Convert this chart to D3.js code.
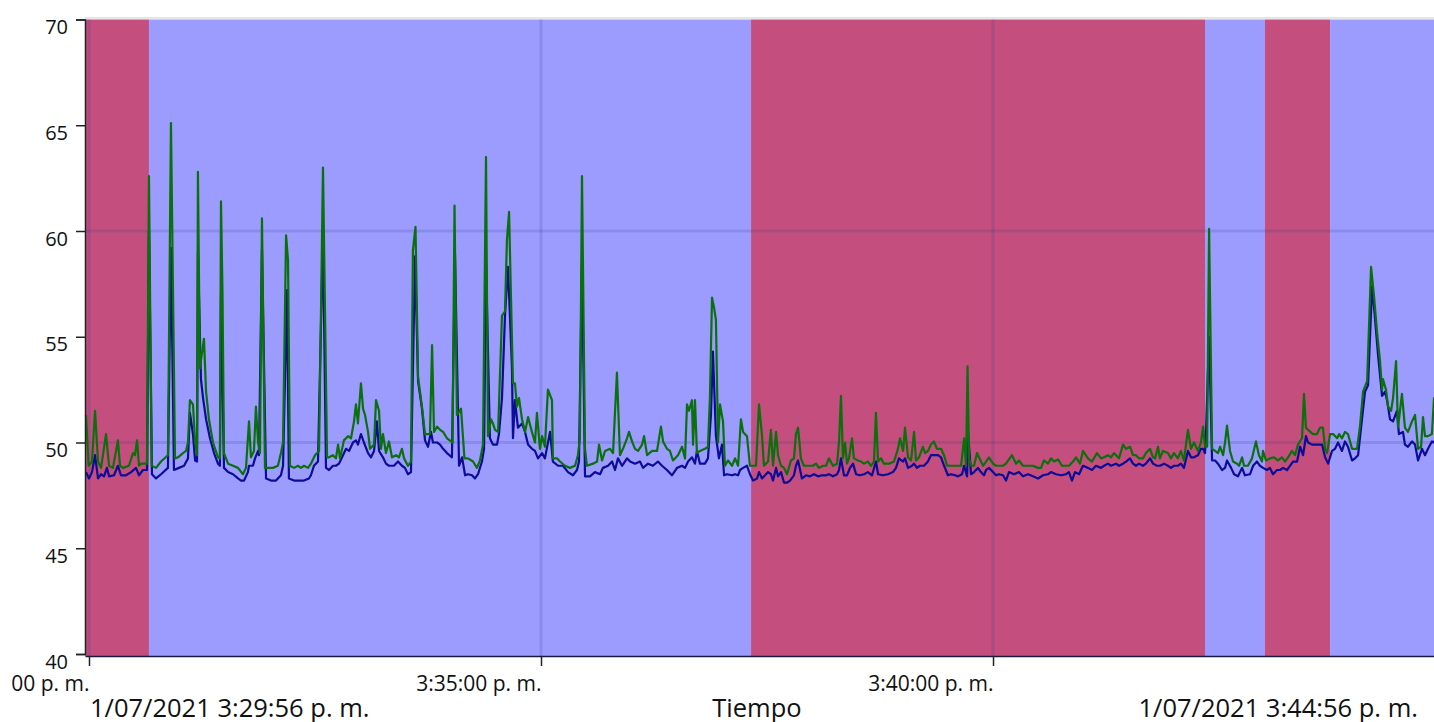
<!DOCTYPE html>
<html><head><meta charset="utf-8">
<script src="https://cdn.jsdelivr.net/npm/d3@7"></script>
<style>body{margin:0;background:#fff;overflow:hidden}svg{display:block;font-family:"Open Sans",sans-serif}</style>
</head><body><svg id="c" width="1434" height="722"></svg>
<script>
// seconds after 1/07/2021 3:30:00 p. m., value
const greenSeries = [
[-2,51.3],[-0.2,48.9],[2,49.1],[4,51.5],[6,49.1],[8,48.8],[11.3,50.4],[13.3,48.9],[15.9,48.8],[19.2,50.1],
[20.6,48.9],[22.6,48.8],[26.5,48.9],[29.2,49.5],[30.5,49.4],[31.9,50.1],[33.2,48.9],[34.5,49.0],[38.5,49.0],[39.8,62.6],
[41.6,48.9],[44.5,48.8],[47.8,49.1],[52.4,49.4],[54.4,65.1],[57.1,49.25],[59.1,49.3],[62.4,49.5],[64.4,49.6],[65.7,50.0],
[67,52.0],[69,51.8],[70.4,50.05],[71.7,49.4],[72.3,62.8],[73.6,53.5],[76.3,54.9],[77.7,52.4],[79.6,51.1],[82.3,50.0],
[85.6,49.3],[86.9,49.25],[87.6,61.4],[88.6,57.1],[89.6,49.5],[92.3,49.0],[95.6,48.9],[98.9,48.8],[102.2,48.5],[104.2,48.8],
[106.2,51.0],[107.5,49.3],[109.5,49.6],[110.8,51.7],[112.2,50.0],[113.5,49.5],[114.8,60.6],[116.8,48.8],[118.8,48.8],[122.1,48.8],
[125.4,48.9],[127.4,49.5],[128.8,50.0],[130.8,59.8],[132.1,58.6],[133.4,48.9],[136.1,48.8],[138.7,48.9],[140.7,48.8],[142.7,48.9],
[145.4,48.8],[147.3,49.0],[150,49.4],[152.7,49.6],[155.3,63.0],[158,49.3],[159.3,49.3],[161.9,49.4],[163.9,49.25],[165.3,49.9],
[166.6,49.25],[169.2,50.1],[171.9,50.3],[173.9,50.2],[175.9,51.0],[177.2,51.8],[178.5,50.9],[180.5,52.8],[181.9,51.6],[183.2,51.3],
[185.2,50.5],[186.5,49.7],[189.2,49.9],[190.5,52.0],[192.5,51.5],[193.8,49.7],[195.1,50.4],[197.1,49.5],[199.1,50.05],[201.1,49.3],
[203.8,49.4],[205.7,49.3],[207.7,49.7],[209.1,49.25],[211.7,48.9],[213.7,49.1],[215,59.1],[216.7,60.2],[218.4,53.1],[221,51.7],
[223,50.4],[225,50.4],[226.3,50.4],[227.7,54.6],[229,50.5],[231,50.75],[233,50.6],[235,50.5],[237.6,50.2],[240.3,50.05],
[241.3,50.0],[242.6,61.2],[244.2,51.3],[246.9,51.6],[249.2,49.25],[251.5,49.25],[254.9,49.1],[257.5,48.8],[259.5,49.15],[261.5,49.9],
[263.5,63.5],[264.8,50.3],[266.8,51.1],[268.1,50.9],[269.5,50.6],[271.5,50.5],[274.1,56.0],[276.1,56.2],[277.4,59.6],[278.8,60.9],
[280.1,56.8],[281.4,52.8],[282.7,52.8],[284.1,51.7],[285.4,52.1],[287.4,51.1],[289.4,50.5],[291.4,51.2],[294,50.5],[296,50.0],
[297.3,51.4],[299.3,49.7],[300.7,50.3],[302.6,49.8],[304.6,52.5],[307.3,52.0],[307.9,49.25],[310.6,49.25],[312.6,49.1],[315.9,48.9],
[319.2,48.8],[322.6,48.9],[324.5,49.4],[325.8,50.2],[327.2,62.6],[329.2,49.7],[330.5,48.9],[334.5,49.0],[337.2,49.1],[338.5,49.9],
[340.5,49.15],[342.5,49.6],[345.8,49.7],[347.8,49.5],[350.4,53.3],[352.4,49.4],[354.4,49.7],[357.1,50.2],[358.4,50.5],[360.4,50.05],
[362.4,49.7],[364.4,49.6],[367.1,49.9],[368.4,50.3],[370.4,49.4],[373.7,49.6],[377,49.6],[379.6,50.75],[381,50.05],[383.6,49.7],
[385.6,49.6],[387.6,49.15],[390.9,49.4],[393.6,49.8],[395.6,49.25],[396.9,51.8],[398.2,51.5],[400.2,52.0],[400.9,49.9],[402.2,52.0],
[403.5,49.5],[405.5,49.6],[408.8,49.7],[410.8,49.8],[412.1,52.1],[413.5,56.85],[414.8,56.4],[416.1,55.8],[417.5,50.0],[418.8,51.8],
[420.8,51.0],[422.1,48.9],[424.1,49.15],[426.8,48.9],[428.8,49.25],[430.8,48.9],[432.7,51.1],[434.1,50.5],[436.7,50.3],[438.7,48.9],
[440.7,48.9],[442.7,48.9],[444.7,51.8],[446.7,50.3],[448,48.9],[450.7,49.1],[452.6,50.6],[454,48.9],[456,50.5],[457.3,49.4],
[459.3,48.9],[461.3,48.8],[463.3,48.5],[465.9,49.15],[467.9,49.25],[469.2,50.4],[470.6,50.7],[472.5,49.25],[474.5,48.9],[477.9,48.9],
[480.5,48.9],[482.5,49.0],[484.5,48.8],[487.2,48.9],[489.2,48.9],[491.1,49.25],[493.8,48.9],[496.5,49.0],[497.8,50.05],[499.1,52.2],
[500.4,49.25],[501.8,50.0],[503.1,49.0],[504.4,49.25],[506.4,50.2],[507.7,49.25],[510.4,49.15],[512.4,49.1],[514.4,49.0],[517,49.1],
[519,48.9],[521,49.1],[522.3,51.4],[523.7,49.1],[525.7,49.25],[527.6,49.0],[531,49.0],[534.3,49.1],[536.9,49.7],[538.3,50.2],
[540.3,49.6],[541.6,50.7],[543.6,49.3],[545.6,49.15],[547.6,50.5],[548.9,49.15],[550.9,49.3],[553.5,49.8],[554.9,49.5],[556.8,49.6],
[558.8,49.9],[560.8,50.05],[562.8,49.7],[565.5,49.7],[567.5,49.4],[569.5,48.9],[572.1,48.9],[574.1,48.9],[576.8,48.9],[578.8,48.9],
[580.8,50.2],[582.1,48.9],[583.1,53.6],[584.1,49.25],[585.4,48.9],[587.4,48.9],[589.4,49.5],[590.7,49.3],[593.4,48.9],[595.4,49.1],
[597.3,49.3],[600,49.0],[602,48.9],[604,48.9],[606.6,48.9],[608.6,49.0],[612.6,49.4],[615.3,49.0],[617.2,49.15],[619.9,48.9],
[623.2,48.9],[626.5,48.9],[629.9,48.8],[631.9,48.8],[633.8,49.15],[636.5,49.0],[638.5,49.25],[640.5,49.1],[643.1,49.2],[645.8,48.9],
[648.4,48.9],[650.4,48.9],[653.1,49.1],[655.1,49.3],[657.7,49.0],[659.7,49.6],[663,49.25],[665.7,49.1],[669,49.5],[671.7,49.25],
[673.7,49.3],[676.3,49.4],[678.3,49.3],[680.3,49.5],[683.6,49.25],[686.3,49.9],[688.3,49.7],[690.9,49.8],[692.9,49.4],[694.9,49.4],
[696.9,49.25],[699.5,49.25],[701.5,49.5],[704.2,49.7],[706.2,49.3],[707.5,49.25],[709.5,49.8],[710.8,49.25],[712.8,49.6],[716.1,49.5],
[718.1,49.25],[720.1,49.5],[722.7,49.25],[724.7,49.6],[726.7,49.15],[729.4,50.6],[731.4,49.7],[733.4,50.0],[736,49.6],[738,50.0],
[739.4,50.75],[740.7,49.8],[742.1,49.8],[743.4,60.1],[745.4,49.7],[747.4,49.6],[749.3,49.5],[750.7,49.8],[752.7,49.4],[754,50.0],
[755.3,50.8],[757.3,49.6],[759.3,49.1],[762,49.0],[763.3,48.9],[765.3,49.3],[766.6,48.9],[769.2,48.9],[771.9,49.25],[774.5,50.05],
[776.5,49.4],[778.5,49.1],[779.2,49.6],[781.2,49.15],[783.8,49.25],[786.5,49.3],[789.1,49.15],[791.8,49.3],[793.8,49.1],[795.8,49.3],
[798.4,49.6],[800.4,49.4],[802.4,49.9],[805.1,50.2],[806.4,52.3],[807.7,50.7],[809.1,50.6],[812.4,50.4],[815,50.4],[817,50.7],
[819,50.7],[820.4,49.7],[821.7,49.5],[823.7,50.4],[825.7,50.4],[828.4,50.2],[829.7,50.4],[831.6,50.2],[833.6,50.5],[835.6,50.4],
[838.3,49.7],[841.6,49.7],[843.6,50.8],[845.6,52.4],[848.3,52.9],[850.9,58.3],[852.9,56.9],[854.9,55.2],[856.8,53.9],[858.2,52.5],
[858.8,53.0],[860.8,52.5],[862.2,51.7],[864.2,51.5],[865.5,52.1],[867.5,53.85],[868.8,50.7],[871.4,52.3],[873.4,50.7],[875.4,50.5],
[878.1,51.0],[880.1,51.3],[882.1,49.7],[884.1,49.8],[885.4,51.2],[886.7,50.3],[888.7,50.3],[891.3,50.4],[892.7,52.1],[894,51.4]
];
const blueSeries = [
[-2,48.6],[0,48.3],[2,48.6],[4,49.4],[6,48.3],[8,48.5],[10,48.4],[11.9,48.8],[13.3,48.4],[16.6,48.45],
[19.2,48.9],[21.2,48.45],[24.6,48.45],[27.9,48.6],[31.2,48.8],[33.2,48.45],[35.8,48.7],[38.5,48.7],[39.8,60.0],[41.8,48.5],
[44.5,48.3],[47.8,48.5],[52.4,48.8],[54.4,59.2],[56.4,48.7],[59.7,48.8],[63.1,48.9],[65.7,49.25],[67,51.4],[69,50.4],
[70.4,49.15],[71.7,49.1],[72.3,59.0],[74.3,53.0],[75.7,52.1],[77.7,51.1],[80.3,50.2],[83,49.5],[85.6,49.0],[86.9,48.9],
[87.6,57.0],[89.6,48.8],[92.3,48.6],[95.6,48.5],[98.9,48.3],[100.9,48.2],[102.9,48.2],[105.5,48.6],[106.2,48.9],[108.8,48.9],
[110.2,49.25],[112.2,49.6],[112.8,49.4],[114.8,59.1],[117.5,48.3],[120.8,48.2],[124.1,48.2],[127.4,48.45],[128.8,48.9],[131.4,57.2],
[132.7,48.3],[136.1,48.2],[139.4,48.2],[142.7,48.2],[146,48.3],[147.3,48.45],[149.3,48.9],[152,49.1],[155.3,59.9],[157.3,48.8],
[159.3,48.7],[161.9,48.9],[163.9,48.9],[165.9,49.0],[168.6,49.4],[170.6,49.7],[172.6,49.6],[175.2,50.0],[177.2,50.1],[178.5,49.9],
[180.5,50.4],[182.5,50.0],[185.2,49.5],[187.2,49.3],[189.2,49.6],[191.1,51.0],[192.5,49.6],[195.1,49.3],[197.1,49.0],[199.1,48.9],
[202.4,48.9],[205.1,49.1],[207.7,48.9],[209.7,48.8],[211.7,48.5],[213.7,48.6],[216.4,58.8],[218.4,52.9],[221,51.6],[223,50.1],
[225,49.8],[227,50.5],[228.3,50.0],[231,50.0],[233,49.9],[235,49.7],[237.6,49.5],[240.9,49.3],[242.9,58.9],[245.6,48.9],
[247.6,49.3],[249.6,48.45],[251.5,48.5],[254.2,48.45],[256.2,48.3],[258.2,48.5],[260.8,49.1],[262.2,49.7],[263.5,58.5],[266.1,50.2],
[268.1,49.9],[270.8,49.9],[272.1,50.4],[274.1,52.1],[276.1,56.0],[278.1,58.3],[280.7,53.6],[281.4,50.2],[282.7,52.0],[284.7,50.7],
[287.4,50.9],[289.4,50.5],[291.4,49.9],[294,49.7],[296,49.6],[298,49.25],[300.7,49.5],[302.6,49.25],[306,50.5],[307.9,49.1],
[311.3,48.9],[314.6,48.9],[317.9,48.6],[321.2,48.45],[323.9,48.7],[325.2,49.1],[327.2,58.5],[329.2,48.4],[332.5,48.4],[335.8,48.6],
[339.2,48.5],[341.1,48.8],[344.5,48.9],[347.2,49.1],[349.1,48.7],[351.1,49.25],[353.8,48.9],[357.1,49.25],[359.1,49.1],[362.4,49.0],
[365.7,49.1],[367.7,48.8],[371,49.0],[374.3,48.9],[377.6,49.1],[380.3,48.9],[383.6,48.7],[386.9,48.45],[390.3,48.8],[393.6,48.9],
[395.6,48.8],[397.6,49.1],[400.2,49.3],[402.2,49.0],[403.5,49.6],[405.5,49.0],[408.8,49.0],[410.8,49.25],[412.8,51.3],[414.1,54.3],
[416.1,50.3],[418.1,49.25],[420.1,49.9],[421.5,48.45],[423.4,48.5],[426.8,48.45],[428.8,48.5],[430.8,48.45],[432.1,48.7],[434.1,48.8],
[436.7,48.9],[438.7,48.5],[440.7,48.2],[443.4,48.3],[444.7,48.6],[446.7,48.3],[448.7,48.45],[450.7,48.6],[452.6,48.5],[454,48.2],
[456,48.8],[457.3,48.4],[459.3,48.6],[461.3,48.1],[463.3,48.1],[465.3,48.2],[467.9,48.45],[469.2,48.9],[470.6,49.15],[473.2,48.3],
[475.9,48.45],[478.5,48.4],[481.2,48.5],[483.8,48.4],[486.5,48.45],[489.2,48.45],[491.1,48.5],[493.8,48.4],[496.5,48.5],[497.8,48.7],
[499.1,49.25],[501.1,48.45],[503.1,48.45],[505.1,48.8],[507.1,49.0],[509.1,48.5],[511.7,48.45],[514.4,48.5],[517,48.6],[519.7,48.45],
[522.3,49.1],[523.7,48.5],[527,48.45],[530.3,48.5],[533.6,48.6],[535.6,48.8],[537.6,49.25],[540.3,49.1],[541.6,49.25],[543.6,48.8],
[546.2,48.9],[547.6,49.0],[549.5,48.8],[551.5,48.9],[554.2,48.9],[556.8,49.1],[558.8,49.4],[560.8,49.4],[563.5,49.4],[565.5,49.3],
[567.5,48.9],[570.1,48.45],[572.1,48.5],[574.8,48.45],[576.8,48.4],[579.4,48.5],[580.8,48.9],[582.8,48.4],[583.4,50.5],[585.4,48.5],
[587.4,48.6],[590,48.8],[592,48.6],[594,48.45],[595.4,48.7],[597.3,48.8],[600,48.6],[602,48.45],[604,48.5],[606.6,48.45],
[608.6,48.2],[610.6,48.6],[613.9,48.5],[617.2,48.6],[619.9,48.4],[623.2,48.5],[626.5,48.4],[629.9,48.3],[633.2,48.45],[636.5,48.5],
[638.5,48.6],[641.8,48.5],[645.1,48.45],[648.4,48.5],[650.4,48.6],[652.4,48.2],[654.4,48.6],[657.1,48.5],[659.7,48.9],[663,48.8],
[665.7,48.7],[668.3,48.9],[671.7,48.8],[673.7,48.9],[676.3,49.0],[678.3,48.9],[681.6,49.0],[683.6,48.9],[686.3,49.0],[688.3,49.1],
[690.9,49.25],[692.9,49.0],[694.9,48.9],[696.9,49.0],[699.5,48.9],[701.5,49.0],[704.2,49.25],[706.2,49.0],[708.8,48.9],[710.8,48.9],
[713.5,49.0],[716.1,48.9],[718.1,48.8],[720.1,48.9],[722.7,48.9],[724.7,49.0],[726.7,48.8],[729.4,49.6],[731.4,49.3],[733.4,49.3],
[736,49.4],[738,49.7],[739.4,49.7],[740.7,49.5],[741.3,50.3],[743.4,55.0],[745.4,49.15],[747.4,49.15],[749.3,49.0],[752,48.7],
[754,48.8],[755.3,49.15],[758,48.8],[760,48.5],[762.6,48.4],[765.3,48.8],[767.2,48.45],[770.6,48.5],[772.6,48.9],[775.2,49.1],
[777.2,48.9],[779.2,48.8],[781.8,48.7],[783.8,48.8],[785.8,48.5],[788.5,48.7],[790.5,48.7],[792.5,48.8],[795.1,48.7],[797.1,48.9],
[799.1,49.1],[801.8,49.1],[803.8,49.8],[805.8,49.4],[807.7,50.3],[809.1,50.0],[811.7,49.9],[813.7,49.9],[815.7,49.9],[818.4,49.9],
[820.4,49.3],[822.4,49.0],[825,49.6],[827,49.7],[829,50.0],[831.6,49.6],[833.6,50.05],[835.6,49.8],[838.3,49.15],[840.3,49.25],
[842.3,49.4],[844.9,51.1],[846.9,52.4],[848.9,52.7],[851.6,57.4],[853.6,55.8],[855.6,54.1],[858.2,52.2],[860.2,52.4],[861.5,52.0],
[863.5,51.1],[865.5,51.0],[868.1,51.5],[869.4,50.4],[872.1,50.5],[873.4,49.9],[875.4,49.8],[878.1,50.05],[880.1,49.9],[882.1,49.15],
[884.7,49.7],[886.7,49.4],[888.7,49.7],[891.3,50.05],[892.7,50.0],[894,50.2]
];
const bandStart = [-2.65, 39.8, 439.4, 740.7, 780.5, 823.7];
const bandEnd   = [39.8, 439.4, 740.7, 780.5, 823.7, 896];
const bandState = ["red", "blue", "red", "blue", "red", "blue"];
const yTicks = [40, 45, 50, 55, 60, 65, 70];
const yGridValues = [50, 60];
const startLabel = "1/07/2021 3:29:56 p. m.";
const endLabel = "1/07/2021 3:44:56 p. m.";
const axisTitle = "Tiempo";

const base = new Date(2021, 6, 1, 15, 30, 0);
const toDate = s => new Date(base.getTime() + s * 1000);
const bandColor = {red: "#c44f7e", blue: "#9c9cff"};

const svg = d3.select("#c");
const pLeft = 85, pTop = 19.5, pBottom = 654, axisY = 656;
const x = d3.scaleTime().domain([toDate(-2.65), toDate(896)]).range([pLeft, 1439]);
const y = d3.scaleLinear().domain([40, 70]).range([pBottom, pTop]);

svg.append("defs").append("clipPath").attr("id", "lblclip")
  .append("rect").attr("x", 10).attr("y", 0).attr("width", 1424).attr("height", 722);

// bands
svg.append("g").selectAll("rect").data(bandState).join("rect")
  .attr("x", (d, i) => x(toDate(bandStart[i])))
  .attr("width", (d, i) => x(toDate(bandEnd[i])) - x(toDate(bandStart[i])))
  .attr("y", pTop).attr("height", axisY - pTop)
  .attr("fill", d => bandColor[d]);

// top border
svg.append("line").attr("x1", pLeft).attr("x2", 1434).attr("y1", 18).attr("y2", 18)
  .attr("stroke", "#dcdcdc").attr("stroke-width", 1.5);

// grid
const xTickVals = x.ticks(d3.timeMinute.every(5));
const gridStroke = "rgba(40,60,140,0.17)";
svg.append("g").selectAll("line").data(xTickVals).join("line")
  .attr("x1", d => x(d)).attr("x2", d => x(d)).attr("y1", pTop).attr("y2", axisY)
  .attr("stroke", gridStroke).attr("stroke-width", 3);
svg.append("g").selectAll("line").data(yGridValues).join("line")
  .attr("x1", pLeft).attr("x2", 1434).attr("y1", d => y(d)).attr("y2", d => y(d))
  .attr("stroke", gridStroke).attr("stroke-width", 3);

// lines
const line = d3.line().x(d => x(toDate(d[0]))).y(d => y(d[1]));
svg.append("path").datum(blueSeries).attr("d", line).attr("fill", "none")
  .attr("stroke", "#0c0c96").attr("stroke-width", 2.2).attr("stroke-linejoin", "round");
svg.append("path").datum(greenSeries).attr("d", line).attr("fill", "none")
  .attr("stroke", "#0b700b").attr("stroke-width", 2.2).attr("stroke-linejoin", "round");

// y axis
const yAxis = d3.axisLeft(y).tickValues(yTicks).tickSize(9).tickPadding(8);
const gy = svg.append("g").attr("transform", `translate(${pLeft},0)`).call(yAxis);
gy.select(".domain").attr("stroke", "#222").attr("stroke-width", 1.5);
gy.selectAll(".tick line").attr("stroke", "#222").attr("stroke-width", 1.5);
gy.selectAll(".tick text").attr("font-size", 20).attr("fill", "#111")
  .attr("font-family", "Open Sans, sans-serif").attr("dy", 14).attr("x", -17);

// x axis
const fmt = d => {
  const h = d.getHours() % 12 || 12;
  const p = n => String(n).padStart(2, "0");
  return `${h}:${p(d.getMinutes())}:${p(d.getSeconds())} p. m.`;
};
const xAxis = d3.axisBottom(x).tickValues(xTickVals).tickFormat(fmt).tickSize(10).tickSizeOuter(0);
const gx = svg.append("g").attr("transform", `translate(0,${axisY})`).call(xAxis);
gx.select(".domain").attr("stroke", "#1a1a40").attr("stroke-width", 1.5);
gx.selectAll(".tick line").attr("stroke", "#222").attr("stroke-width", 1.5);
gx.selectAll(".tick text").attr("font-size", 21).attr("fill", "#111")
  .attr("font-family", "Open Sans, sans-serif").attr("text-anchor", "end").attr("dy", 0).attr("y", 35)
  .attr("clip-path", "url(#lblclip)");
gx.selectAll(".tick").each(function(d) {
  d3.select(this).select("text").attr("clip-path", null);
});
// clip labels at left border of the control
gx.selectAll(".tick").attr("clip-path", d => null);
gx.attr("clip-path", "url(#lblclipx)");
svg.select("defs").append("clipPath").attr("id", "lblclipx")
  .append("rect").attr("x", 10).attr("y", -20).attr("width", 1424).attr("height", 80);

// labels
svg.append("text").attr("x", 90).attr("y", 717).attr("font-size", 25.5).attr("fill", "#111").text(startLabel);
svg.append("text").attr("x", 1418).attr("y", 717).attr("font-size", 25.5).attr("fill", "#111")
  .attr("text-anchor", "end").text(endLabel);
svg.append("text").attr("x", 757).attr("y", 717).attr("font-size", 25.5).attr("fill", "#111")
  .attr("text-anchor", "middle").text(axisTitle);
</script>
</body></html>
